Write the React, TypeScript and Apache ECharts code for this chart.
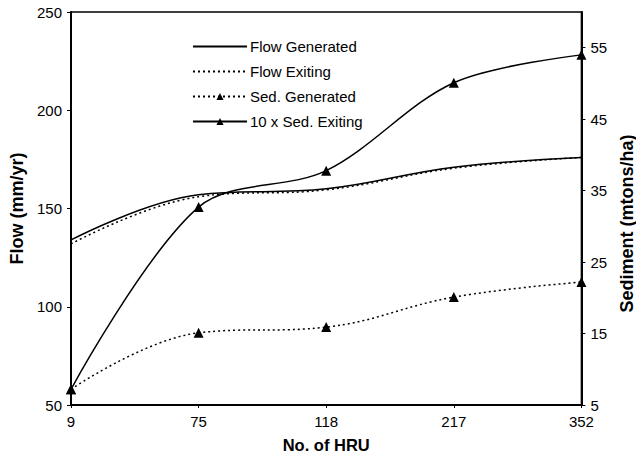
import React, { useEffect, useRef } from "react";
import * as echarts from "echarts";

const categories = ["9", "75", "118", "217", "352"];
const flowGenerated = [134, 157, 160, 171, 176];
const flowExiting = [132, 156, 159.5, 170.5, 176];
const sedGenerated = [7.2, 15.1, 15.9, 20.1, 22.2];
const sedExiting10x = [7.2, 32.7, 37.8, 50.1, 54.0];
const leftTicks = [50, 100, 150, 200, 250];
const rightTicks = [5, 15, 25, 35, 45, 55];
const legendNames = ["Flow Generated", "Flow Exiting", "Sed. Generated", "10 x Sed. Exiting"];

const FONT = "'Liberation Sans', Arial, sans-serif";

export default function App() {
  const ref = useRef<HTMLDivElement>(null);
  useEffect(() => {
    if (!ref.current) return;
    const chart = echarts.init(ref.current, undefined, { renderer: "svg" });
    const axisLine = { show: true, lineStyle: { color: "#000", width: 2 } };
    const titleStyle = { fontFamily: FONT, fontSize: 16.5, fontWeight: "bold", color: "#000" };
    const vTitleStyle = { ...titleStyle, fontSize: 18 };
    const labelStyle = { fontFamily: FONT, fontSize: 15, color: "#000" };
    chart.setOption({
      animation: false,
      backgroundColor: "#fff",
      textStyle: { fontFamily: FONT, color: "#000" },
      grid: {
        left: 70,
        right: 57,
        top: 12,
        bottom: 63,
        show: true,
        borderColor: "#000",
        borderWidth: 1.5,
        backgroundColor: "transparent",
      },
      legend: {
        orient: "vertical",
        left: 192,
        top: 39,
        padding: 0,
        itemWidth: 54,
        itemHeight: 9,
        itemGap: 10,
        textStyle: { fontFamily: FONT, fontSize: 15, color: "#000", padding: [0, 0, 0, -2] },
        data: legendNames.map((n, i) =>
          i < 2 ? { name: n, itemStyle: { opacity: 0 } } : { name: n }
        ),
      },
      xAxis: {
        type: "category",
        data: categories,
        boundaryGap: false,
        name: "No. of HRU",
        nameLocation: "middle",
        nameGap: 31,
        nameTextStyle: titleStyle,
        axisLine,
        axisTick: { show: true, length: 3, lineStyle: { color: "#000" } },
        axisLabel: { ...labelStyle, margin: 9 },
        splitLine: { show: false },
      },
      yAxis: [
        {
          type: "value",
          min: 50,
          max: 250,
          interval: 50,
          name: "Flow (mm/yr)",
          nameLocation: "middle",
          nameGap: 45,
          nameTextStyle: vTitleStyle,
          axisLine,
          axisTick: { show: true, length: 4, lineStyle: { color: "#000" }, customValues: leftTicks },
          axisLabel: { ...labelStyle, margin: 9, customValues: leftTicks },
          splitLine: { show: false },
        },
        {
          type: "value",
          min: 5,
          max: 60,
          name: "Sediment (mtons/ha)",
          nameLocation: "middle",
          nameRotate: 90,
          nameGap: 33,
          nameTextStyle: { ...vTitleStyle, padding: [0, 30, 0, 0] },
          position: "right",
          axisLine,
          axisTick: { show: true, length: 4, lineStyle: { color: "#000" }, customValues: rightTicks },
          axisLabel: { ...labelStyle, margin: 9, customValues: rightTicks },
          splitLine: { show: false },
        },
      ],
      series: [
        {
          name: "Flow Generated",
          type: "line",
          data: flowGenerated,
          yAxisIndex: 0,
          smooth: 0.4,
          symbol: "none",
          lineStyle: { color: "#000", width: 1.5, type: "solid" },
          itemStyle: { color: "#000" },
        },
        {
          name: "Flow Exiting",
          type: "line",
          data: flowExiting,
          yAxisIndex: 0,
          smooth: 0.4,
          symbol: "none",
          lineStyle: { color: "#000", width: 1.5, type: [2, 3] },
          itemStyle: { color: "#000" },
        },
        {
          name: "Sed. Generated",
          type: "line",
          data: sedGenerated,
          yAxisIndex: 1,
          smooth: 0.4,
          symbol: "triangle",
          symbolSize: 10,
          lineStyle: { color: "#000", width: 1.5, type: [2, 3] },
          itemStyle: { color: "#000" },
        },
        {
          name: "10 x Sed. Exiting",
          type: "line",
          data: sedExiting10x,
          yAxisIndex: 1,
          smooth: 0.33,
          symbol: "triangle",
          symbolSize: 10,
          lineStyle: { color: "#000", width: 1.5, type: "solid" },
          itemStyle: { color: "#000" },
        },
      ],
    });
    return () => chart.dispose();
  }, []);
  return <div ref={ref} style={{ width: 644, height: 468, margin: -8 }} />;
}
